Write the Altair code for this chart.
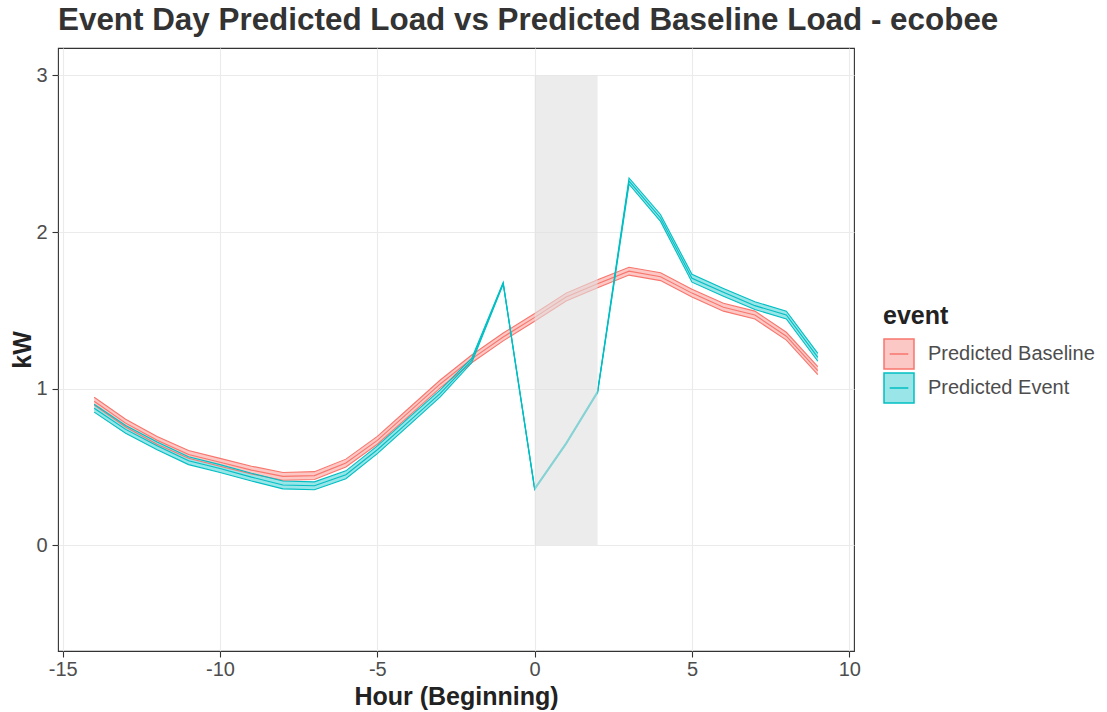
import altair as alt
import pandas as pd

hours = list(range(-14, 10))
baseline_mid = [0.92, 0.78, 0.67, 0.58, 0.53, 0.48, 0.44, 0.445, 0.525, 0.67, 0.85, 1.03,
                1.19, 1.33, 1.455, 1.585, 1.67, 1.75, 1.715, 1.61, 1.52, 1.47, 1.335, 1.115]
baseline_half = [0.025] * 24
event_mid = [0.875, 0.74, 0.635, 0.54, 0.49, 0.435, 0.385, 0.38, 0.45, 0.61, 0.79, 0.97,
             1.18, 1.673, 0.36, 0.65, 0.978, 2.325, 2.09, 1.705, 1.615, 1.53, 1.47, 1.2]
event_half = [0.025, 0.025, 0.025, 0.025, 0.025, 0.025, 0.025, 0.025, 0.025, 0.025, 0.025, 0.022,
              0.015, 0.006, 0.006, 0.006, 0.006, 0.02, 0.022, 0.025, 0.025, 0.025, 0.025, 0.025]

series = ["Predicted Baseline", "Predicted Event"]
line_colors = ["#F8766D", "#00BFC4"]
fill_colors = ["#FCC8C5", "#99E5E7"]

window_start = [0]
window_end = [2]
window_low = [0]
window_high = [3]

x_ticks = [-15, -10, -5, 0, 5, 10]
y_ticks = [0, 1, 2, 3]

rows = []
for name, mids, halves in ((series[0], baseline_mid, baseline_half),
                           (series[1], event_mid, event_half)):
    for h, m, s in zip(hours, mids, halves):
        rows.append({"hour": h, "event": name, "mid": m, "lo": m - s, "hi": m + s})
df = pd.DataFrame(rows)
rect_df = pd.DataFrame({"x1": window_start, "x2": window_end, "y1": window_low, "y2": window_high})

FONT = "Liberation Sans"

legend = alt.Legend(
    title="event", orient="none", legendX=825, legendY=256,
    titleFont=FONT, titleFontSize=25, titleFontWeight="bold", titleColor="#222222",
    titlePadding=9, labelFont=FONT, labelFontSize=20, labelColor="#4D4D4D",
    labelOffset=13, labelLimit=400, symbolType="M-1,-1L1,-1L1,1L-1,1Z M-0.62,0L0.62,0",
    symbolSize=900, symbolStrokeWidth=1.5, rowPadding=-4, padding=0,
)

xs = alt.Scale(domain=[-15.15, 10.15], nice=False, zero=False)
ys = alt.Scale(domain=[-0.675, 3.175], nice=False, zero=False)
x_axis = alt.Axis(values=x_ticks, title="Hour (Beginning)", labelExpr="'' + datum.value",
                  labelPadding=2, titlePadding=5)
y_axis = alt.Axis(values=y_ticks, title="kW", labelExpr="'' + datum.value",
                  labelPadding=5, titlePadding=0)

fill_scale = alt.Scale(domain=series, range=fill_colors)
stroke_scale = alt.Scale(domain=series, range=line_colors)

base = alt.Chart(df)

areas = base.mark_area(opacity=1).encode(
    x=alt.X("hour:Q", scale=xs, axis=x_axis),
    y=alt.Y("lo:Q", scale=ys, axis=y_axis),
    y2="hi:Q",
    fill=alt.Fill("event:N", scale=fill_scale, legend=legend),
)

lines = base.transform_fold(["lo", "mid", "hi"], as_=["key", "value"]).mark_line(
    strokeWidth=1.1
).encode(
    x=alt.X("hour:Q", scale=xs),
    y=alt.Y("value:Q", scale=ys),
    stroke=alt.Stroke("event:N", scale=stroke_scale, legend=legend),
    detail="key:N",
)

rect = alt.Chart(rect_df).mark_rect(color="#E0E0E0", opacity=0.6).encode(
    x=alt.X("x1:Q", scale=xs), x2="x2:Q",
    y=alt.Y("y1:Q", scale=ys), y2="y2:Q",
)

chart = alt.layer(areas, lines, rect).properties(
    width=796, height=603,
    title=alt.Title("Event Day Predicted Load vs Predicted Baseline Load - ecobee",
                    anchor="start", frame="group", font=FONT, fontSize=31.4,
                    fontWeight="bold", color="#333333", offset=12),
    autosize=alt.AutoSizeParams(type="none"),
    padding={"left": 58, "top": 48, "right": 253, "bottom": 61},
    background="white",
).configure_view(
    stroke="#333333", strokeWidth=1.1
).configure_axis(
    domain=False, grid=True, gridColor="#EBEBEB", gridWidth=1.1,
    tickColor="#333333", tickSize=6, tickWidth=1.1,
    labelFont=FONT, labelFontSize=20, labelColor="#4D4D4D",
    titleFont=FONT, titleFontSize=25, titleFontWeight="bold", titleColor="#222222",
)

chart.save("out.html", embed_options={"renderer": "svg", "actions": False})
